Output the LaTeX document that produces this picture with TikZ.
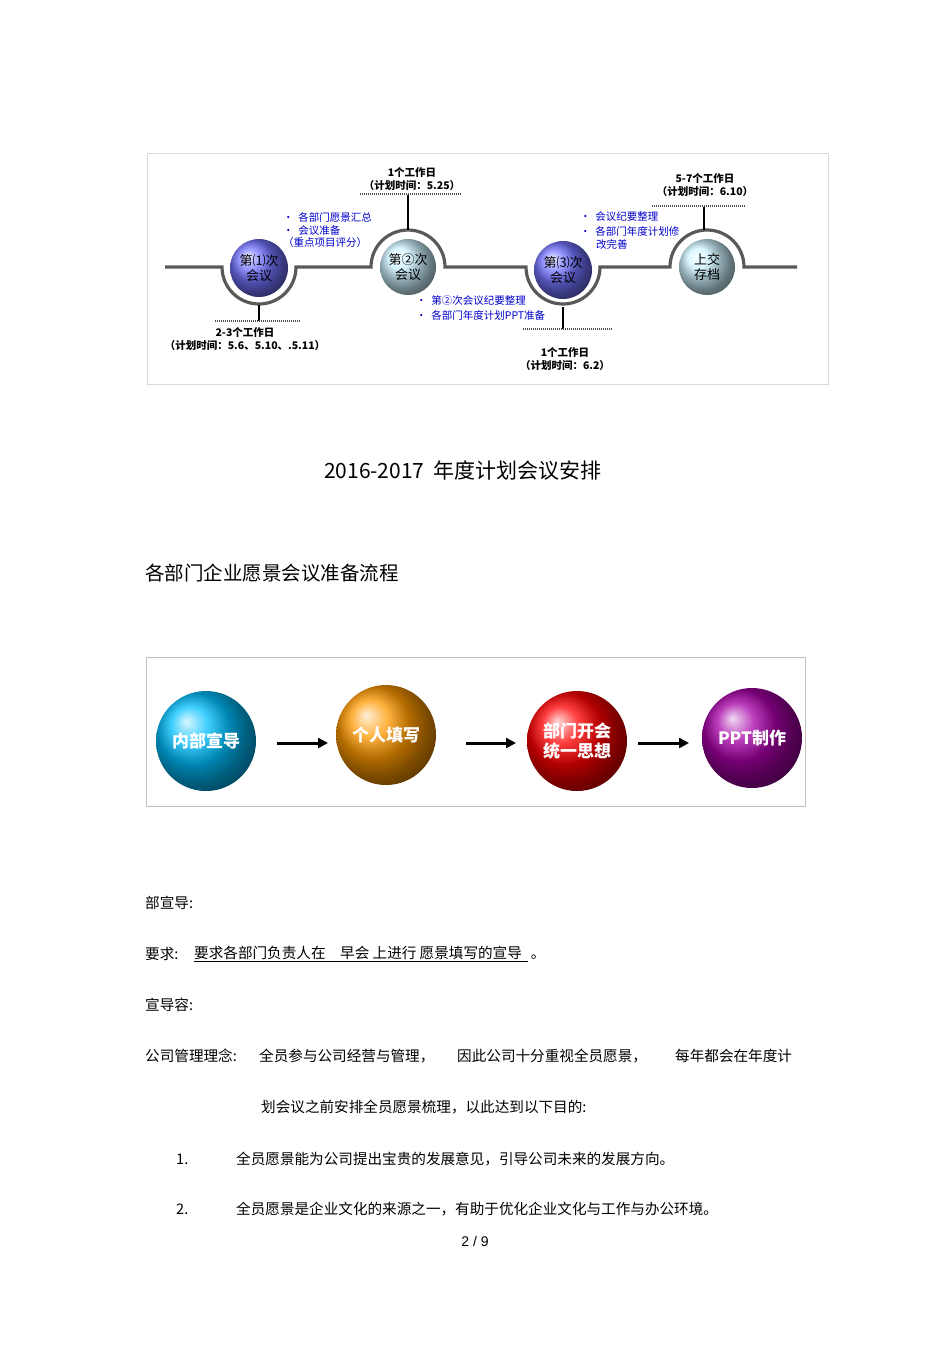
\documentclass[tikz,border=0pt]{standalone}
\usepackage{fontspec}
\setmainfont{Liberation Sans}
\newfontfamily\cjk{Noto Sans CJK SC}
\usetikzlibrary{arrows.meta}
\begin{document}
\begin{tikzpicture}[x=1pt,y=1pt,
  track/.style={draw=black!65,line width=3.2pt},
  tick/.style={draw=black,line width=1.3pt},
  dots/.style={draw=black!70,line width=1.3pt,dash pattern=on 1pt off 1pt},
  lab/.style={font=\cjk\fontsize{10.5}{12.5}\selectfont\bfseries,align=center,inner sep=0pt},
  blu/.style={font=\cjk\fontsize{10.5}{12}\selectfont,text=blue!80!black,anchor=west,inner sep=0pt},
  ballA/.style={circle,minimum size=58pt,ball color=blue!55!white,font=\cjk\fontsize{13}{15}\selectfont,align=center,inner sep=0pt},
  ballB/.style={circle,minimum size=56pt,ball color=blue!25!cyan!20!white,font=\cjk\fontsize{13}{15}\selectfont,align=center,inner sep=0pt},
  big/.style={circle,minimum size=100pt,font=\cjk\bfseries\fontsize{17}{20}\selectfont,text=white,align=center,inner sep=0pt},
  flow/.style={-{Triangle[length=10pt,width=10pt]},line width=3pt},
  body/.style={font=\cjk\fontsize{14.6}{16}\selectfont,anchor=west,inner sep=0pt}]
\useasboundingbox (0,0) rectangle (950,-1345);
% top panel
\draw[black!15] (147,-153) rectangle (828,-384);
\draw[track] (165,-267) -- (222,-267) arc (180:360:37) -- (371,-267) arc (180:0:37) -- (526,-267) arc (180:360:37) -- (670,-267) arc (180:0:37) -- (797,-267);
\node[ballA] (m1) at (259,-268) {第⑴次\\会议};
\node[ballB] (m2) at (408,-267) {第②次\\会议};
\node[ballA] (m3) at (563,-270) {第⑶次\\会议};
\node[ballB] (m4) at (707,-267) {上交\\存档};
\coordinate (t1) at (259,-321); \draw[tick] (259,-305) -- (t1); \draw[dots] (215,-321) -- (300,-321);
\coordinate (t2) at (408,-195); \draw[tick] (408,-230) -- (t2); \draw[dots] (360,-194) -- (462,-194);
\coordinate (t3) at (563,-329); \draw[tick] (563,-307) -- (t3); \draw[dots] (523,-329) -- (612,-329);
\coordinate (t4) at (704,-207); \draw[tick] (704,-230) -- (t4); \draw[dots] (652,-206) -- (745,-206);
\node[lab] (l1) at (245,-339) {2-3个工作日\\（计划时间：5.6、5.10、.5.11）};
\node[lab] (l2) at (412,-179) {1个工作日\\（计划时间：5.25）};
\node[lab] (l3) at (565,-359) {1个工作日\\（计划时间：6.2）};
\node[lab] (l4) at (705,-185) {5-7个工作日\\（计划时间：6.10）};
\node[blu] at (283,-217) {•\ \ 各部门愿景汇总};
\node[blu] at (283,-231) {•\ \ 会议准备};
\node[blu] at (283,-243) {（重点项目评分）};
\node[blu] at (416,-301) {•\ \ 第②次会议纪要整理};
\node[blu] at (416,-315) {•\ \ 各部门年度计划PPT准备};
\node[blu] at (580,-217) {•\ \ 会议纪要整理};
\node[blu] at (580,-231) {•\ \ 各部门年度计划修};
\node[blu] at (596,-244) {改完善};
% titles
\node[font=\cjk\fontsize{21}{24}\selectfont] (title) at (463,-471) {2016-2017\ \ 年度计划会议安排};
\node[font=\cjk\fontsize{19.5}{22}\selectfont,anchor=west,inner sep=0pt] (sub) at (145,-573) {各部门企业愿景会议准备流程};
% flow panel
\draw[black!25] (146,-657) rectangle (805,-806);
\node[big,ball color=cyan!75!blue] (b1) at (206,-741) {内部宣导};
\node[big,ball color=orange!80!yellow] (b2) at (386,-735) {个人填写};
\node[big,ball color=red] (b3) at (577,-741) {部门开会\\统一思想};
\node[big,ball color=violet!70!magenta] (b4) at (752,-738) {PPT制作};
\draw[flow] (277,-743) -- (328,-743);
\draw[flow] (466,-743) -- (516,-743);
\draw[flow] (638,-743) -- (689,-743);
% body text
\node[body] at (145,-903) {部宣导:};
\node[body] at (145,-954) {要求:};
\node[body] at (194,-954) {\underline{要求各部门负责人在\quad 早会 上进行 愿景填写的宣导\ \ }\,。};
\node[body] at (145,-1005) {宣导容:};
\node[body] at (145,-1056) {公司管理理念:};
\node[body] at (259,-1056) {全员参与公司经营与管理，};
\node[body] at (457,-1056) {因此公司十分重视全员愿景，};
\node[body] at (675,-1056) {每年都会在年度计};
\node[body] at (261,-1107) {划会议之前安排全员愿景梳理，以此达到以下目的:};
\node[body] at (176,-1159) {1.};
\node[body] at (236,-1159) {全员愿景能为公司提出宝贵的发展意见，引导公司未来的发展方向。};
\node[body] at (176,-1209) {2.};
\node[body] at (236,-1209) {全员愿景是企业文化的来源之一，有助于优化企业文化与工作与办公环境。};
\node[font=\fontsize{14}{16}\selectfont] at (475,-1241) {2 / 9};
\end{tikzpicture}
\end{document}
